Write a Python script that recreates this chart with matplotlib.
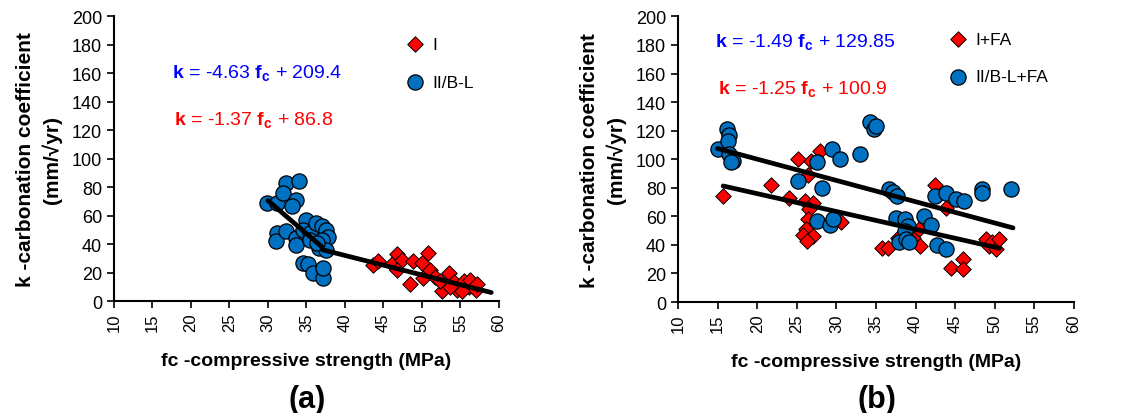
import matplotlib
matplotlib.use("Agg")
import matplotlib.pyplot as plt
import numpy as np

plt.rcParams["font.family"] = ["Liberation Sans", "DejaVu Sans"]
plt.rcParams["mathtext.fontset"] = "custom"
plt.rcParams["mathtext.rm"] = "Liberation Sans"
plt.rcParams["mathtext.bf"] = "Liberation Sans:bold"
plt.rcParams["mathtext.it"] = "Liberation Sans:italic"

BLUE = "#0070C0"
RED = "#FF0000"

# ---- panel (a): I / II/B-L ----
a_red_x = [43.6, 44.3, 46.1, 46.8, 47.4, 46.8, 48.9, 48.5, 50.0, 50.8, 50.2, 51.0, 51.7,
           52.6, 53.5, 54.1, 54.6, 55.4, 56.1, 56.3, 57.0, 57.2, 55.2, 52.3, 53.7]
a_red_y = [25, 28, 26, 33, 29, 22, 28, 12, 27, 34, 16, 22, 17,
           7, 20, 13, 8, 14, 10, 15, 8, 12, 7, 14, 10]
a_blue_x = [29.9, 31.2, 32.4, 32.0, 34.0, 33.7, 33.1, 31.2, 31.1, 32.3, 33.6, 33.6, 34.9,
            34.5, 35.5, 36.2, 37.0, 37.5, 37.8, 37.0, 36.6, 37.6, 34.5, 35.2, 35.8,
            37.1, 37.1, 35.5, 36.4]
a_blue_y = [69, 69, 83, 76, 84, 71, 67, 48, 42, 49, 44, 39, 57,
            50, 48, 55, 53, 50, 45, 43, 37, 36, 27, 26, 20,
            16, 23, 43, 41]
# fits: (slope, intercept, x_start, x_end)
a_fit_blue = (-4.63, 209.4, 30.0, 37.0)
a_fit_red = (-1.37, 86.8, 37.0, 59.0)

# ---- panel (b): I+FA / II/B-L+FA ----
b_red_x = [15.7, 21.7, 24.0, 25.1, 26.8, 27.9, 26.4, 26.0, 27.0, 26.6, 26.4, 26.2, 25.8,
           27.1, 26.3, 30.6, 35.7, 36.5, 37.8, 39.7, 40.4, 40.5, 42.4, 43.9, 44.5,
           46.0, 46.0, 48.9, 49.3, 49.7, 50.1, 50.5]
b_red_y = [74, 82, 73, 100, 99, 106, 89, 71, 69, 65, 58, 51, 47,
           46, 43, 56, 38, 38, 45, 45, 51, 39, 82, 66, 24,
           30, 23, 44, 39, 42, 37, 44]
b_blue_x = [15.05, 16.2, 16.5, 16.3, 16.5, 16.9, 16.7, 25.2, 27.5, 28.2, 27.5, 29.2, 29.6,
            29.5, 30.5, 33.0, 34.2, 34.8, 35.0, 36.7, 37.1, 37.6, 37.5, 38.6, 39.0,
            38.6, 37.9, 38.8, 39.2, 41.0, 41.9, 42.7, 43.9, 42.4, 43.9, 45.1, 46.1,
            48.4, 48.4, 52.1]
b_blue_y = [107, 121, 117, 113, 104, 99, 98, 85, 98, 80, 57, 54, 58,
            107, 100, 104, 126, 121, 123, 79, 77, 74, 59, 58, 53,
            50, 42, 44, 42, 60, 54, 40, 37, 74, 76, 72, 71,
            79, 76, 79]
b_fit_blue = (-1.49, 129.85, 15.0, 52.3)
b_fit_red = (-1.25, 100.9, 15.7, 50.6)

fig = plt.figure(figsize=(11.24, 4.14), dpi=100)
ax_a = fig.add_axes([0.1014, 0.2705, 0.3425, 0.688])
ax_b = fig.add_axes([0.6032, 0.2680, 0.3523, 0.690])


def fit_line(ax, fit):
    m, c, x0, x1 = fit
    xs = np.array([x0, x1])
    ax.plot(xs, m * xs + c, color="black", lw=3.4, solid_capstyle="round", zorder=5)


def eq_text(m, c):
    return r"$\mathbf{k}$ = %s $\mathbf{f_c}$ + %s" % (m, c)


def style_axes(ax):
    ax.set_xlim(10, 60)
    ax.set_ylim(0, 200)
    ax.set_xticks(np.arange(10, 61, 5))
    ax.set_yticks(np.arange(0, 201, 20))
    ax.spines["top"].set_visible(False)
    ax.spines["right"].set_visible(False)
    for s in ("left", "bottom"):
        ax.spines[s].set_linewidth(1.5)
    ax.tick_params(axis="both", direction="out", length=5, width=1.2, labelsize=13)
    ax.tick_params(axis="x", labelrotation=90, labelsize=12)
    ax.set_xlabel("fc -compressive strength (MPa)", fontsize=14, fontweight="bold", labelpad=15)
    ax.set_ylabel("k -carbonation coefficient\n(mm/\u221ayr)", fontsize=15,
                  fontweight="bold", labelpad=7, linespacing=1.4)


def panel(ax, rx, ry, bx, by, fit_b, fit_r, lab_r, lab_b, eq_pos_b, eq_pos_r, eq_b, eq_r):
    ax.scatter(rx, ry, marker="D", s=62, color=RED, edgecolor="black", linewidth=0.7,
               zorder=3, label=lab_r)
    ax.scatter(bx, by, marker="o", s=120, color=BLUE, edgecolor="black", linewidth=0.9,
               zorder=4, label=lab_b)
    fit_line(ax, fit_b)
    fit_line(ax, fit_r)
    ax.text(*eq_pos_b, eq_b, color="#0000FF", fontsize=14, va="center")
    ax.text(*eq_pos_r, eq_r, color=RED, fontsize=14, va="center")
    style_axes(ax)


panel(ax_a, a_red_x, a_red_y, a_blue_x, a_blue_y, a_fit_blue, a_fit_red, "I", "II/B-L",
      (17.5, 161), (17.8, 128), eq_text("-4.63", "209.4"), eq_text("-1.37", "86.8"))
panel(ax_b, b_red_x, b_red_y, b_blue_x, b_blue_y, b_fit_blue, b_fit_red, "I+FA", "II/B-L+FA",
      (14.7, 183), (15.1, 150), eq_text("-1.49", "129.85"), eq_text("-1.25", "100.9"))

ax_a.legend(loc="upper left", bbox_to_anchor=(0.705, 0.97), frameon=False, fontsize=12.5,
            handletextpad=0.0, labelspacing=1.3, borderpad=0.2)
ax_b.legend(loc="upper left", bbox_to_anchor=(0.632, 0.99), frameon=False, fontsize=12.5,
            handletextpad=0.0, labelspacing=1.3, borderpad=0.2)

fig.text(0.273, 0.035, "(a)", fontsize=22, fontweight="bold", ha="center", va="center")
fig.text(0.780, 0.035, "(b)", fontsize=22, fontweight="bold", ha="center", va="center")

plt.savefig("out.png", dpi=100)
plt.close()
